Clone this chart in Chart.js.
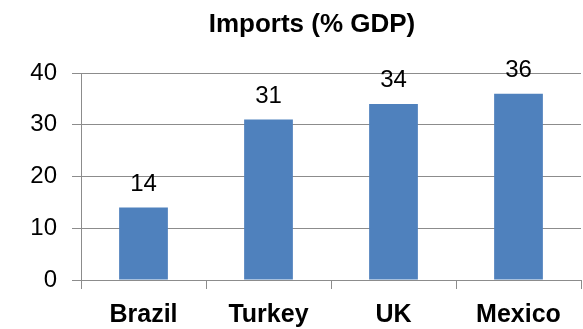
<!DOCTYPE html>
<html>
<head>
<meta charset="utf-8">
<script src="https://cdn.jsdelivr.net/npm/chart.js@4/dist/chart.umd.min.js"></script>
<style>
  html, body { margin: 0; padding: 0; background: #fff; }
  #wrap { width: 583px; height: 329px; }
</style>
</head>
<body>
<div id="wrap"><canvas id="chart"></canvas></div>
<script>
// data
const titleText = 'Imports (% GDP)';
const countries = ['Brazil', 'Turkey', 'UK', 'Mexico'];
const importsPctGdp = [14, 31, 34, 36];
const yTicks = [0, 10, 20, 30, 40];

const FONT = '"Liberation Sans", Arial, sans-serif';
const GRID = '#8c8c8c';

// value labels above each bar + the title (sits a bit right of canvas centre, like the original)
const decorations = {
    id: 'decorations',
    afterDatasetsDraw(chart) {
        const ctx = chart.ctx;
        const meta = chart.getDatasetMeta(0);
        ctx.save();
        ctx.font = '24px ' + FONT;
        ctx.fillStyle = '#000';
        ctx.textAlign = 'center';
        ctx.textBaseline = 'alphabetic';
        meta.data.forEach((bar, i) => {
            ctx.fillText(String(chart.data.datasets[0].data[i]), bar.x, bar.y - 17);
        });
        ctx.font = 'bold 26px ' + FONT;
        ctx.textBaseline = 'middle';
        ctx.fillText(titleText, 312, 25);
        ctx.restore();
    }
};

new Chart(document.getElementById('chart'), {
    type: 'bar',
    data: {
        labels: countries,
        datasets: [{
            data: importsPctGdp,
            backgroundColor: '#4f81bd',
            borderWidth: 0,
            barPercentage: 0.39,
            categoryPercentage: 1,
        }],
    },
    options: {
        responsive: true,
        maintainAspectRatio: false,
        animation: false,
        layout: { padding: { left: 0, right: 2, top: 73, bottom: 0 } },
        plugins: {
            legend: { display: false },
            tooltip: { enabled: false },
            title: { display: false },
        },
        scales: {
            x: {
                grid: { drawOnChartArea: false, drawTicks: true, tickLength: 9, color: GRID, offset: true },
                border: { color: GRID, width: 1 },
                ticks: { color: '#000', padding: 11, font: { family: FONT, size: 25, weight: 'bold' } },
                afterFit(scale) { scale.height = 49; },
            },
            y: {
                min: 0,
                max: 40,
                afterBuildTicks(scale) { scale.ticks = yTicks.map(v => ({ value: v })); },
                grid: { color: GRID, tickLength: 9 },
                border: { color: GRID, width: 1 },
                ticks: { color: '#000', padding: 15, font: { family: FONT, size: 24 } },
                afterFit(scale) { scale.width = 81; },
            },
        },
    },
    plugins: [decorations],
});
</script>
</body>
</html>
